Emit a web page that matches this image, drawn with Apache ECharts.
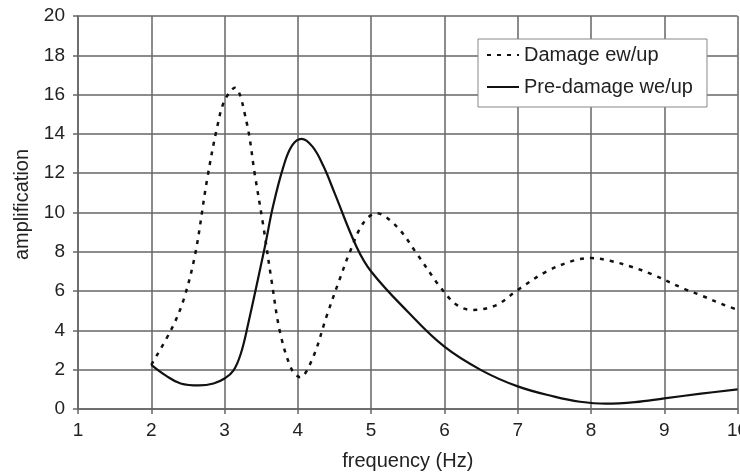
<!DOCTYPE html>
<html>
<head>
<meta charset="utf-8">
<script src="https://cdn.jsdelivr.net/npm/echarts@6/dist/echarts.min.js"></script>
<style>
html,body{margin:0;padding:0;background:#fff;}
#chart{width:740px;height:473px;}
</style>
</head>
<body>
<div id="chart"></div>
<script>
// Damage ew/up (dotted)
var damageX = [2.0, 2.28, 2.44, 2.6, 2.76, 2.9, 3.0, 3.14, 3.3, 3.41, 3.53, 3.64, 3.76, 3.92, 4.03, 4.21, 4.39, 4.57, 4.71, 4.89, 5.07, 5.35, 5.62, 5.94, 6.17, 6.39, 6.71, 7.0, 7.39, 7.76, 8.0, 8.26, 8.55, 8.83, 9.28, 9.49, 9.8, 10.0];
var damageY = [2.25, 4.1, 5.55, 7.9, 11.65, 14.37, 15.7, 16.35, 14.6, 12.0, 9.28, 6.56, 3.85, 1.98, 1.62, 2.66, 4.7, 6.6, 8.0, 9.45, 9.96, 9.28, 7.92, 6.22, 5.29, 5.04, 5.29, 6.06, 6.99, 7.55, 7.68, 7.54, 7.24, 6.86, 6.1, 5.8, 5.32, 5.05];
// Pre-damage we/up (solid)
var preX = [2.0, 2.2, 2.4, 2.65, 2.85, 3.0, 3.12, 3.22, 3.32, 3.55, 3.66, 3.8, 3.92, 4.05, 4.2, 4.35, 4.5, 4.8, 5.0, 5.5, 6.0, 6.5, 7.0, 7.5, 7.85, 8.2, 8.6, 9.0, 9.5, 10.0];
var preY = [2.25, 1.7, 1.3, 1.2, 1.3, 1.55, 1.95, 2.8, 4.3, 8.26, 10.3, 12.3, 13.4, 13.75, 13.35, 12.35, 11.0, 8.26, 7.0, 4.95, 3.17, 1.98, 1.15, 0.63, 0.37, 0.27, 0.35, 0.54, 0.78, 1.0];
var seriesNames = ['Damage ew/up', 'Pre-damage we/up'];
var xLabelName = 'frequency (Hz)';
var yLabelName = 'amplification';

function pairs(xs, ys){ return xs.map(function(x,i){ return [x, ys[i]]; }); }

var FONT = '"Liberation Sans", Arial, sans-serif';
var chart = echarts.init(document.getElementById('chart'), null, {renderer:'canvas'});
chart.setOption({
  animation: false,
  backgroundColor: '#ffffff',
  textStyle: {fontFamily: FONT, color: '#222'},
  grid: {left: 78, right: 2.4, top: 16, bottom: 64, containLabel: false, outerBoundsMode: 'none'},
  legend: {
    left: 478, top: 39, orient: 'vertical',
    backgroundColor: '#fff', borderColor: '#888', borderWidth: 1,
    padding: [6, 14, 10, 8], itemGap: 12,
    itemWidth: 32, itemHeight: 14,
    itemStyle: {opacity: 0},
    textStyle: {fontFamily: FONT, fontSize: 20, color: '#222'},
    data: seriesNames
  },
  xAxis: {
    type: 'value', min: 1, max: 10, interval: 1,
    name: xLabelName, nameLocation: 'middle', nameGap: 42,
    nameTextStyle: {fontFamily: FONT, fontSize: 20, color: '#222'},
    axisLine: {show: true, lineStyle: {color: '#666', width: 1.5}},
    axisTick: {show: true, length: 5, lineStyle: {color: '#666', width: 1.5}},
    axisLabel: {fontFamily: FONT, fontSize: 19, color: '#222', margin: 12},
    splitLine: {show: true, lineStyle: {color: '#666', width: 1.5}}
  },
  yAxis: {
    type: 'value', min: 0, max: 20, interval: 2,
    name: yLabelName, nameLocation: 'middle', nameGap: 46, nameRotate: 90,
    nameTextStyle: {fontFamily: FONT, fontSize: 20, color: '#222', padding: [0, 0, 0, 16]},
    axisLine: {show: true, lineStyle: {color: '#666', width: 1.5}},
    axisTick: {show: true, length: 5, lineStyle: {color: '#666', width: 1.5}},
    axisLabel: {fontFamily: FONT, fontSize: 19, color: '#222', margin: 13},
    splitLine: {show: true, lineStyle: {color: '#666', width: 1.5}}
  },
  series: [
    {
      name: seriesNames[0], type: 'line', data: pairs(damageX, damageY),
      smooth: 0.35, symbol: 'none', showSymbol: false,
      lineStyle: {color: '#111', width: 2.5, type: [4, 6]},
      itemStyle: {color: '#111'}
    },
    {
      name: seriesNames[1], type: 'line', data: pairs(preX, preY),
      smooth: 0.4, symbol: 'none', showSymbol: false,
      lineStyle: {color: '#111', width: 2.2, type: 'solid'},
      itemStyle: {color: '#111'}
    }
  ]
});
</script>
</body>
</html>
